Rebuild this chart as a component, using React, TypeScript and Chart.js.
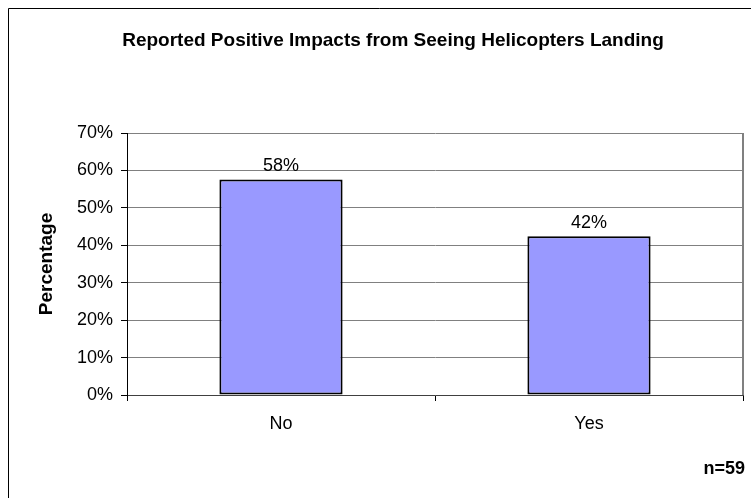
import React, { useEffect, useRef } from "react";
import { Chart, registerables } from "chart.js";

Chart.register(...registerables);

const categories: string[] = ["No", "Yes"];
const percentages: number[] = [57.6, 42.4];
const valueLabels: string[] = ["58%", "42%"];
const yTicks: number[] = [0, 10, 20, 30, 40, 50, 60, 70];
const chartTitle = "Reported Positive Impacts from Seeing Helicopters Landing";
const yTitle = "Percentage";
const footnote = "n=59";

const FONT = "'Liberation Sans', Arial, Helvetica, sans-serif";

export default function App() {
  const ref = useRef<HTMLCanvasElement | null>(null);

  useEffect(() => {
    const canvas = ref.current!;
    const decor = {
      id: "decor",
      afterDraw(chart: any) {
        const ctx = chart.ctx as CanvasRenderingContext2D;
        const a = chart.chartArea;
        ctx.save();
        ctx.strokeStyle = "#000";
        ctx.lineWidth = 1;
        ctx.beginPath();
        ctx.moveTo(0.5, chart.height);
        ctx.lineTo(0.5, 0.5);
        ctx.lineTo(chart.width, 0.5);
        ctx.stroke();
        ctx.strokeStyle = "#808080";
        ctx.lineWidth = 2;
        ctx.beginPath();
        ctx.moveTo(a.right, a.top);
        ctx.lineTo(a.right, a.bottom);
        ctx.stroke();
        ctx.fillStyle = "#000";
        ctx.font = `bold 19px ${FONT}`;
        ctx.textAlign = "center";
        ctx.textBaseline = "alphabetic";
        ctx.fillText(chartTitle, 385, 38);
        ctx.save();
        ctx.translate(39, (a.top + a.bottom) / 2);
        ctx.rotate(-Math.PI / 2);
        ctx.font = `bold 19px ${FONT}`;
        ctx.textBaseline = "middle";
        ctx.fillText(yTitle, 0, 0);
        ctx.restore();
        ctx.font = `bold 18px ${FONT}`;
        ctx.textAlign = "right";
        ctx.textBaseline = "middle";
        ctx.fillText(footnote, 737, 461);
        ctx.font = `18px ${FONT}`;
        ctx.textAlign = "center";
        ctx.textBaseline = "alphabetic";
        const meta = chart.getDatasetMeta(0);
        meta.data.forEach((bar: any, i: number) => {
          ctx.fillText(valueLabels[i], bar.x, bar.y - 8);
        });
        ctx.restore();
      },
    };

    const chart = new Chart(canvas, {
      type: "bar",
      data: {
        labels: categories,
        datasets: [
          {
            data: percentages,
            backgroundColor: "#9999FF",
            borderColor: "#000000",
            borderWidth: 2,
            borderSkipped: false,
            categoryPercentage: 1,
            barPercentage: 0.4,
          },
        ],
      },
      options: {
        animation: false,
        responsive: false,
        maintainAspectRatio: false,
        layout: { padding: { top: 125, right: 8, left: 0, bottom: 0 } },
        plugins: {
          legend: { display: false },
          title: { display: false },
          tooltip: { enabled: false },
        },
        scales: {
          x: {
            offset: true,
            grid: {
              offset: true,
              drawOnChartArea: false,
              drawTicks: true,
              tickLength: 6,
              tickColor: "#000",
            },
            border: { color: "#404040", width: 1 },
            ticks: {
              color: "#000",
              font: { family: FONT, size: 18 },
              padding: 12,
            },
            afterFit(scale: any) {
              scale.height = 103;
            },
          },
          y: {
            min: 0,
            max: 70,
            afterBuildTicks(scale: any) {
              scale.ticks = yTicks.map((v) => ({ value: v }));
            },
            grid: {
              color: "#808080",
              lineWidth: 1,
              tickLength: 6,
              tickColor: "#000",
            },
            border: { color: "#000", width: 1 },
            ticks: {
              color: "#000",
              font: { family: FONT, size: 18 },
              padding: 8,
              callback: (v: any) => `${v}%`,
            },
            afterFit(scale: any) {
              scale.width = 119;
            },
          },
        },
      },
      plugins: [decor],
    });
    return () => chart.destroy();
  }, []);

  return (
    <div style={{ position: "absolute", left: 8, top: 8, width: 743, height: 490, overflow: "hidden" }}>
      <canvas
        ref={ref}
        width={743}
        height={490}
        style={{ display: "block", width: 743, height: 490 }}
      />
    </div>
  );
}
